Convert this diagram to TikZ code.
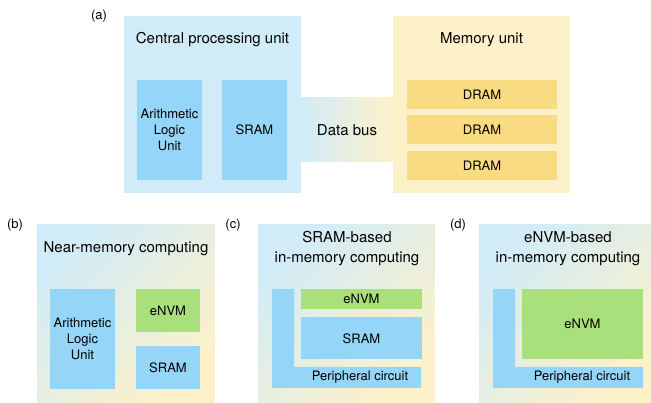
\documentclass[tikz,border=0pt]{standalone}
\usepackage{fontspec}
\setmainfont{TeX Gyre Heros}
\usepackage{tikz}
\usetikzlibrary{positioning}
\definecolor{cpublue}{HTML}{D1ECF8}
\definecolor{blockblue}{HTML}{95D5F7}
\definecolor{memyellow}{HTML}{FDF1CA}
\definecolor{dramyellow}{HTML}{F9DB82}
\definecolor{nvmgreen}{HTML}{A9E07B}
\tikzstyle{panel}=[rectangle, inner sep=0pt, minimum width=177pt, minimum height=177pt]
\tikzstyle{mixpanel}=[panel, top color=cpublue, bottom color=memyellow, shading angle=45]
\tikzstyle{heading}=[inner sep=0pt, align=center, font=\fontsize{15}{20}\selectfont]
\tikzstyle{tag}=[inner sep=0pt, font=\fontsize{13}{16}\selectfont]
\tikzstyle{block}=[rectangle, inner sep=0pt, align=center, fill=blockblue, font=\fontsize{13}{16}\selectfont]
\tikzstyle{dram}=[block, fill=dramyellow, minimum width=150pt, minimum height=29pt]
\tikzstyle{nvm}=[block, fill=nvmgreen]

\begin{document}
\begin{tikzpicture}[x=1pt, y=-1pt]
		\useasboundingbox (0,0) rectangle (651,403);
		% (a) von Neumann machine
		\node(a)[tag] at (99,16){(a)};
		\node(cpu)[panel, fill=cpublue] at (212.5,104.5){};
		\node(mem)[panel, fill=memyellow] at (481.5,104.5){};
		\node(bus)[rectangle, inner sep=0pt, minimum width=92pt, minimum height=64pt, left color=cpublue, right color=memyellow, heading] at (347,130){Data bus};
		\node(cpu-t)[heading] at (212.5,40){Central processing unit};
		\node(mem-t)[heading] at (481.5,40){Memory unit};
		\node(a-alu)[block, minimum width=65pt, minimum height=100pt] at (169.5,130){Arithmetic\\Logic\\Unit};
		\node(a-sram)[block, minimum width=65pt, minimum height=100pt] at (254.5,130){SRAM};
		\node(dram1)[dram] at (482,94.5){DRAM};
		\node(dram2)[dram, below=6pt of dram1]{DRAM};
		\node(dram3)[dram, below=6pt of dram2]{DRAM};

		% (b) near-memory computing
		\node(b)[tag] at (15,225){(b)};
		\node(b-box)[mixpanel, minimum height=178pt] at (126,314){};
		\node(b-t)[heading] at (126,249){Near-memory computing};
		\node(b-alu)[block, minimum width=65pt, minimum height=100pt] at (82.5,339){Arithmetic\\Logic\\Unit};
		\node(b-envm)[nvm, minimum width=64pt, minimum height=43pt] at (168,310.5){eNVM};
		\node(b-sram)[block, minimum width=64pt, minimum height=43pt, below=14pt of b-envm]{SRAM};

		% (c) SRAM-based in-memory computing
		\node(c)[tag] at (233,225){(c)};
		\node(c-box)[mixpanel, minimum height=178pt] at (346.5,314){};
		\node(c-t)[heading] at (347,249){SRAM-based\\in-memory computing};
		\fill[blockblue] (272,289) -- (294,289) -- (294,367) -- (421,367) -- (421,388) -- (272,388) -- cycle;
		\node(c-per)[tag] at (360,377.5){Peripheral circuit};
		\node(c-envm)[nvm, minimum width=121pt, minimum height=20pt] at (361.5,299){eNVM};
		\node(c-sram)[block, minimum width=121pt, minimum height=42pt, below=8pt of c-envm]{SRAM};

		% (d) eNVM-based in-memory computing
		\node(d)[tag] at (458,225){(d)};
		\node(d-box)[mixpanel, minimum width=172pt, minimum height=178pt] at (565,314){};
		\node(d-t)[heading] at (568,249){eNVM-based\\in-memory computing};
		\fill[blockblue] (493,289) -- (515,289) -- (515,367) -- (643,367) -- (643,388) -- (493,388) -- cycle;
		\node(d-per)[tag] at (582,377.5){Peripheral circuit};
		\node(d-envm)[nvm, minimum width=121pt, minimum height=70pt] at (582.5,324){eNVM};
	\end{tikzpicture}
\end{document}
